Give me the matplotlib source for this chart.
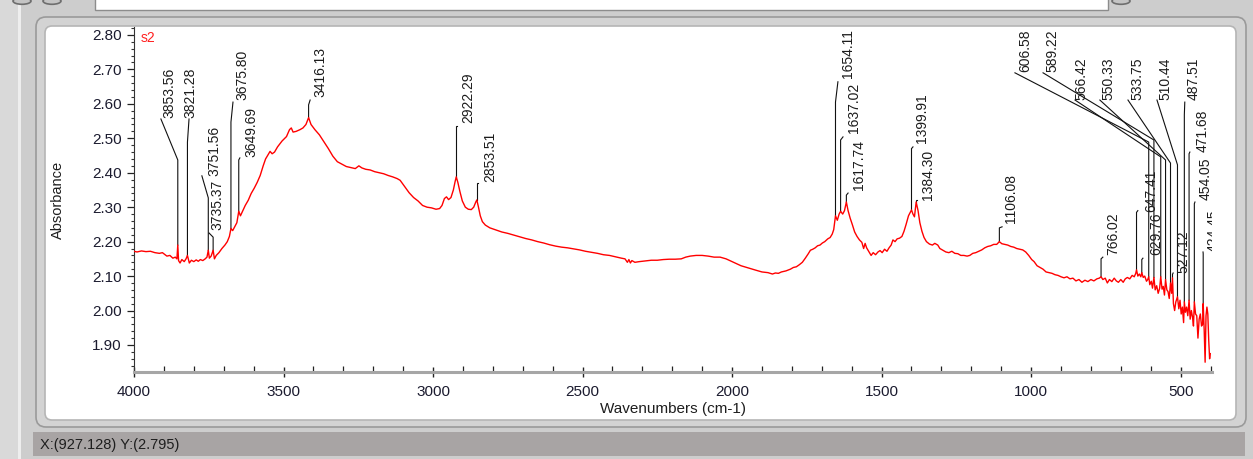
import numpy as np
import matplotlib
matplotlib.use("Agg")
import matplotlib.pyplot as plt
from matplotlib.patches import FancyBboxPatch, Rectangle, Circle
from matplotlib.ticker import MultipleLocator, FormatStrFormatter

plt.rcParams['font.family'] = ['Liberation Sans', 'DejaVu Sans']

# ---------------- spectrum "s2" (wavenumber in cm-1, absorbance) ----------------
wavenumber = [
    4000, 3990, 3975, 3960, 3945, 3930, 3915, 3905, 3890, 3880, 3870, 3862, 3856.5,
    3853.56, 3851, 3846, 3840, 3832, 3826, 3821.28, 3815, 3808, 3800, 3792, 3785,
    3778, 3770, 3762, 3756, 3751.56, 3748, 3742, 3735.37, 3731, 3725, 3716, 3706,
    3696, 3688, 3681, 3675.8, 3670, 3662, 3656, 3649.69, 3644, 3636, 3628, 3618,
    3608, 3598, 3588, 3578, 3568, 3560, 3552, 3545, 3538, 3530, 3520, 3505, 3490,
    3480, 3474, 3468, 3458, 3445, 3435, 3425, 3416.13, 3408, 3395, 3380, 3365, 3350,
    3335, 3320, 3305, 3290, 3275, 3260, 3248, 3238, 3225, 3210, 3195, 3180, 3165,
    3150, 3135, 3120, 3110, 3095, 3080, 3065, 3050, 3035, 3020, 3005, 2990, 2978,
    2970, 2962, 2955, 2948, 2940, 2932, 2926, 2922.29, 2917, 2910, 2902, 2892, 2882,
    2872, 2864, 2857, 2853.51, 2848, 2842, 2835, 2825, 2810, 2790, 2770, 2750, 2730,
    2710, 2690, 2670, 2650, 2630, 2610, 2590, 2570, 2550, 2530, 2510, 2490, 2470,
    2450, 2430, 2410, 2390, 2370, 2358, 2350, 2345, 2340, 2335, 2325, 2310, 2290,
    2270, 2250, 2230, 2210, 2190, 2170, 2155, 2140, 2120, 2100, 2080, 2060, 2040,
    2020, 2000, 1985, 1970, 1955, 1940, 1920, 1900, 1880, 1865, 1855, 1845, 1835,
    1820, 1805, 1795, 1785, 1775, 1765, 1755, 1745, 1738, 1730, 1722, 1714, 1706,
    1698, 1690, 1680, 1672, 1665, 1660, 1654.11, 1648, 1642, 1637.02, 1630, 1624,
    1617.74, 1612, 1605, 1598, 1590, 1582, 1574, 1566, 1560, 1555, 1550, 1542, 1535,
    1528, 1520, 1512, 1505, 1498, 1490, 1482, 1475, 1468, 1462, 1455, 1448, 1440,
    1432, 1425, 1418, 1410, 1404, 1399.91, 1395, 1390, 1384.3, 1378, 1372, 1365,
    1358, 1350, 1340, 1330, 1322, 1312, 1305, 1295, 1285, 1275, 1265, 1255, 1245,
    1235, 1225, 1214, 1205, 1195, 1185, 1175, 1165, 1155, 1145, 1135, 1125, 1115,
    1106.08, 1098, 1088, 1078, 1068, 1058, 1048, 1038, 1028, 1018, 1008, 998, 990,
    980, 970, 960, 950, 940, 930, 920, 910, 900, 890, 880, 870, 860, 850, 840, 830,
    820, 810, 800, 790, 780, 772, 766.02, 760, 752, 745, 738, 730, 722, 715, 708,
    700, 692, 685, 678, 670, 662, 655, 650, 647.41, 643, 638, 633, 629.76, 625, 620,
    614, 610, 606.58, 603, 598, 594, 589.22, 585, 580, 575, 570, 566.42, 562, 558,
    554, 550.33, 546, 542, 538, 533.75, 530, 527.12, 524, 520, 516, 510.44, 506,
    502, 498, 494, 490, 487.51, 484, 480, 476, 471.68, 468, 464, 460, 457, 454.05,
    450, 446, 442, 438, 434, 430, 426.5, 424.45, 421, 418, 415, 412, 409, 406, 403,
    401,
]
absorbance = [
    2.172, 2.170, 2.173, 2.171, 2.172, 2.168, 2.166, 2.168, 2.158, 2.160, 2.152, 2.155, 2.150,
    2.190, 2.145, 2.138, 2.148, 2.142, 2.150, 2.160, 2.138, 2.146, 2.142, 2.147, 2.143,
    2.148, 2.145, 2.150, 2.155, 2.175, 2.152, 2.158, 2.175, 2.150, 2.160, 2.168, 2.180,
    2.190, 2.200, 2.215, 2.238, 2.232, 2.245, 2.255, 2.288, 2.275, 2.290, 2.305, 2.320,
    2.340, 2.355, 2.372, 2.392, 2.420, 2.440, 2.452, 2.462, 2.455, 2.460, 2.475, 2.492, 2.505,
    2.525, 2.530, 2.518, 2.520, 2.525, 2.530, 2.540, 2.560, 2.540, 2.525, 2.510, 2.490, 2.470,
    2.448, 2.432, 2.425, 2.418, 2.415, 2.412, 2.420, 2.414, 2.410, 2.408, 2.403, 2.400, 2.397,
    2.392, 2.388, 2.383, 2.378, 2.360, 2.342, 2.328, 2.318, 2.305, 2.300, 2.298, 2.294, 2.296,
    2.305, 2.325, 2.330, 2.322, 2.328, 2.350, 2.375, 2.388, 2.372, 2.345, 2.318, 2.300, 2.294,
    2.293, 2.300, 2.315, 2.321, 2.300, 2.275, 2.258, 2.248, 2.240, 2.234, 2.228, 2.224, 2.219,
    2.214, 2.209, 2.205, 2.200, 2.196, 2.191, 2.187, 2.184, 2.182, 2.179, 2.176, 2.172, 2.169,
    2.166, 2.162, 2.160, 2.156, 2.152, 2.150, 2.140, 2.148, 2.138, 2.145, 2.140, 2.142, 2.144,
    2.146, 2.146, 2.148, 2.149, 2.149, 2.150, 2.155, 2.158, 2.160, 2.160, 2.158, 2.155, 2.155,
    2.150, 2.142, 2.136, 2.130, 2.126, 2.122, 2.117, 2.112, 2.110, 2.106, 2.109, 2.108, 2.112,
    2.115, 2.120, 2.125, 2.127, 2.133, 2.140, 2.152, 2.165, 2.175, 2.178, 2.182, 2.188, 2.190,
    2.196, 2.200, 2.208, 2.212, 2.222, 2.235, 2.275, 2.262, 2.280, 2.288, 2.280, 2.290,
    2.315, 2.290, 2.268, 2.250, 2.228, 2.215, 2.205, 2.198, 2.180, 2.195, 2.182, 2.170, 2.160,
    2.168, 2.162, 2.170, 2.174, 2.168, 2.178, 2.172, 2.182, 2.190, 2.205, 2.200, 2.208, 2.210,
    2.215, 2.230, 2.250, 2.275, 2.285, 2.292, 2.280, 2.272, 2.315, 2.290, 2.255, 2.230,
    2.212, 2.200, 2.193, 2.190, 2.195, 2.190, 2.180, 2.175, 2.170, 2.168, 2.172, 2.166, 2.165,
    2.160, 2.160, 2.158, 2.160, 2.166, 2.168, 2.172, 2.176, 2.182, 2.186, 2.188, 2.192, 2.192,
    2.200, 2.194, 2.192, 2.190, 2.186, 2.184, 2.180, 2.178, 2.176, 2.170, 2.160, 2.148, 2.142,
    2.130, 2.125, 2.120, 2.112, 2.110, 2.108, 2.104, 2.102, 2.098, 2.095, 2.098, 2.092, 2.094, 2.086, 2.090, 2.082,
    2.088, 2.084, 2.090, 2.086, 2.092, 2.094, 2.098, 2.090, 2.094, 2.080, 2.090, 2.084, 2.094, 2.086, 2.082,
    2.090, 2.082, 2.092, 2.096, 2.092, 2.102, 2.098, 2.108, 2.118, 2.100, 2.106, 2.098, 2.110, 2.096, 2.100,
    2.085, 2.090, 2.098, 2.075, 2.085, 2.065, 2.096, 2.060, 2.072, 2.050, 2.065, 2.098, 2.062, 2.070,
    2.045, 2.090, 2.060, 2.055, 2.035, 2.080, 2.050, 2.095, 2.020, 2.000, 2.025, 2.040, 2.005,
    2.030, 1.990, 2.010, 1.965, 2.025, 1.995, 2.010, 1.985, 2.030, 1.975, 2.000, 1.980, 1.955, 2.025,
    1.990, 1.985, 1.920, 1.975, 1.990, 1.955, 1.960, 2.020, 1.940, 1.850, 1.985, 2.010, 1.990, 1.915, 1.860,
    1.875,
]

# ---------------- picked peaks ----------------
peak_wn = [3853.56, 3821.28, 3751.56, 3735.37, 3675.80, 3649.69, 3416.13, 2922.29,
           2853.51, 1654.11, 1637.02, 1617.74, 1399.91, 1384.30, 1106.08, 766.02,
           647.41, 629.76, 606.58, 589.22, 566.42, 550.33, 533.75, 527.12, 510.44,
           487.51, 471.68, 454.05, 424.45]

# label placement: text centre (cm-1), text foot (abs), leader start (cm-1, abs), elbow height (abs)
label_x = [3880, 3813, 3732, 3722, 3636, 3609, 3375, 2883, 2810, 1612, 1592, 1576, 1365,
           1345, 1067, 726, 599, 582, 1021, 927, 833, 740, 646, 489, 552, 455, 425, 415, 389]
label_y = [2.559, 2.559, 2.391, 2.234, 2.611, 2.446, 2.620, 2.544, 2.373, 2.675, 2.515,
           2.350, 2.486, 2.321, 2.254, 2.161, 2.286, 2.161, 2.693, 2.693, 2.611, 2.611,
           2.611, 2.109, 2.611, 2.611, 2.460, 2.321, 2.170]
lead_x = [3910, 3816, 3773, 3749, 3669, 3646, 3411, 2920, 2850, 1646, 1629, 1612, 1395,
          1382, 1097, 760, 643, 626, 1054, 960, 853, 770, 676, 525, 579, 486, 469, 452, 425]
lead_y = [2.556, 2.556, 2.391, 2.225, 2.605, 2.443, 2.611, 2.536, 2.370, 2.664, 2.504,
          2.341, 2.475, 2.321, 2.243, 2.155, 2.290, 2.152, 2.690, 2.690, 2.611, 2.611,
          2.611, 2.109, 2.611, 2.605, 2.460, 2.315, 2.170]
elbow_y = [2.437, 2.489, 2.327, 2.213, 2.547, 2.437, 2.597, 2.536, 2.370, 2.605, 2.495,
           2.335, 2.470, 2.321, 2.240, 2.150, 2.285, 2.148, 2.489, 2.495, 2.446, 2.437,
           2.428, 2.105, 2.423, 2.568, 2.455, 2.310, 2.165]

# ---------------- figure & window chrome ----------------
W, H = 1253, 459
fig = plt.figure(figsize=(W / 100, H / 100), dpi=100)
fig.patch.set_facecolor('#cdcdcd')


def fx(x):
    return x / W


def fy(y):
    return 1 - y / H


def box(x0, y0, x1, y1, **kw):
    return Rectangle((fx(x0), fy(y1)), fx(x1) - fx(x0), fy(y0) - fy(y1),
                     transform=fig.transFigure, zorder=-5, **kw)


def rbox(x0, y0, x1, y1, r, **kw):
    return FancyBboxPatch((fx(x0), fy(y1)), fx(x1) - fx(x0), fy(y0) - fy(y1),
                          boxstyle=f"round,pad=0,rounding_size={r / W}",
                          transform=fig.transFigure, mutation_aspect=W / H,
                          zorder=-5, **kw)


fig.patches.append(box(0, 0, 18, H, facecolor='#d9d9d9', edgecolor='none'))
fig.patches.append(box(18, 0, 21, H, facecolor='#eeeeee', edgecolor='none'))
# toolbar strip with search field and round buttons
fig.patches.append(box(95, -2, 1108, 10, facecolor='white', edgecolor='#8c8c8c', linewidth=1))
for cx in (22, 52, 1121):
    fig.patches.append(Circle((fx(cx), fy(1)), 9 / W, transform=fig.transFigure, zorder=-5,
                              facecolor='#c4c4c4', edgecolor='#6e6e6e', linewidth=1.2))
# panel frame
fig.patches.append(rbox(36, 17, 1246, 427, 10, facecolor='#d3d3d3', edgecolor='#9a9a9a', linewidth=1.2))
fig.patches.append(rbox(45, 26, 1236, 420, 7, facecolor='white', edgecolor='#b5b5b5', linewidth=1.2))
# status bar
fig.patches.append(box(33, 432, 1245, 456, facecolor='#a8a4a4', edgecolor='none'))
fig.text(fx(40), fy(445), "X:(927.128) Y:(2.795)", fontsize=10.5, color='#1e1e1e',
         va='center', ha='left')

# ---------------- plot area ----------------
ax = fig.add_axes([fx(134), fy(372), fx(1212) - fx(134), fy(27) - fy(372)])
ax.set_zorder(2)
ax.set_facecolor('white')
ax.set_xlim(4000, 395)
ax.set_ylim(1.8216, 2.823)

ax.plot(wavenumber, absorbance, color='#ff0000', linewidth=1.0, zorder=3)

wn_asc = np.asarray(wavenumber)[::-1]
ab_asc = np.asarray(absorbance)[::-1]
for i, w in enumerate(peak_wn):
    top = float(np.interp(w, wn_asc, ab_asc))
    ax.plot([lead_x[i], w, w], [lead_y[i], elbow_y[i], top], color='#111111',
            linewidth=0.8, zorder=2, solid_joinstyle='miter')
    ax.text(label_x[i], label_y[i], f"{w:.2f}", rotation=90, ha='center', va='bottom',
            fontsize=10, color='#1c1c1c', clip_on=True, zorder=4)

ax.text(0.006, 0.988, "s2", transform=ax.transAxes, color='#ff2020', fontsize=10,
        ha='left', va='top')

for side in ('top', 'right'):
    ax.spines[side].set_visible(False)
ax.spines['left'].set_color('#333333')
ax.spines['left'].set_linewidth(0.8)
ax.spines['bottom'].set_color('#a6a6a6')
ax.spines['bottom'].set_linewidth(2.2)

ax.xaxis.set_major_locator(MultipleLocator(500))
ax.xaxis.set_minor_locator(MultipleLocator(100))
ax.yaxis.set_major_locator(MultipleLocator(0.1))
ax.yaxis.set_minor_locator(MultipleLocator(0.02))
ax.yaxis.set_major_formatter(FormatStrFormatter('%.2f'))
ax.set_yticks([1.9, 2.0, 2.1, 2.2, 2.3, 2.4, 2.5, 2.6, 2.7, 2.8])

ax.tick_params(axis='x', which='major', direction='inout', length=7, width=1.0,
               color='#222222', labelsize=11, labelcolor='#1b1b2f', pad=6)
ax.tick_params(axis='x', which='minor', direction='in', length=4, width=0.9, color='#222222')
ax.tick_params(axis='y', which='major', direction='out', length=5, width=0.9,
               color='#222222', labelsize=11, labelcolor='#1b1b2f', pad=4)
ax.tick_params(axis='y', which='minor', direction='out', length=2.5, width=0.8, color='#333333')

ax.set_xlabel("Wavenumbers (cm-1)", fontsize=11, color='#1e1e1e')
ax.xaxis.set_label_coords(0.5, -0.087)
ax.set_ylabel("Absorbance", fontsize=10.5, color='#1e1e1e')
ax.yaxis.set_label_coords(-0.064, 0.5)

fig.savefig("out.png", dpi=100, facecolor=fig.get_facecolor())
